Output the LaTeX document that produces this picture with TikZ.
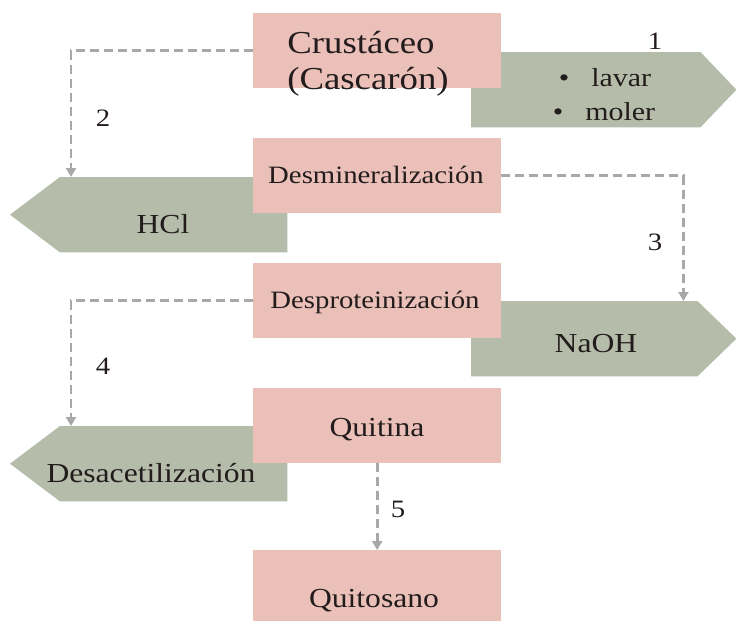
\documentclass[tikz,border=0pt]{standalone}
\usepackage{fontspec}
\setmainfont{Liberation Serif}[FakeStretch=1.15]
\usetikzlibrary{arrows.meta}
\definecolor{boxpink}{RGB}{234,192,185}
\definecolor{sage}{RGB}{181,189,170}
\definecolor{dashgray}{RGB}{168,168,168}
\definecolor{ink}{RGB}{35,28,28}
\begin{document}
\begin{tikzpicture}[x=1pt,y=-1pt,
  procbox/.style={fill=boxpink, minimum width=248pt, minimum height=75pt, inner sep=0pt, anchor=north west, draw=none},
  sagebody/.style={inner sep=0pt, anchor=north west, draw=none, minimum height=75pt},
  txt/.style={text=ink, inner sep=0pt, anchor=base, font=\fontsize{27.5}{32}\selectfont},
  bigtxt/.style={text=ink, inner sep=0pt, anchor=base, font=\fontsize{32}{38}\selectfont},
  midtxt/.style={text=ink, inner sep=0pt, anchor=base, font=\fontsize{25}{30}\selectfont},
  numtxt/.style={text=ink, inner sep=0pt, anchor=base, font=\fontsize{25}{30}\selectfont},
  flow/.style={draw=dashgray, line width=2.6pt, dash pattern=on 9pt off 5pt,
    -{Triangle[width=10pt,length=9pt,fill=dashgray]}}
]
\useasboundingbox (0,0) rectangle (736,621);
\fill[white] (0,0) rectangle (736,621);

% green pointed shapes
\node[sagebody, minimum width=229pt] (g1) at (471,52) {};
\fill[sage] (g1.north west) -- (g1.north east) -- ([xshift=36pt]g1.east) -- (g1.south east) -- (g1.south west) -- cycle;
\node[sagebody, minimum width=227pt] (g2) at (60,177) {};
\fill[sage] (g2.north east) -- (g2.north west) -- ([xshift=-50pt]g2.west) -- (g2.south west) -- (g2.south east) -- cycle;
\node[sagebody, minimum width=226pt] (g3) at (471,301) {};
\fill[sage] (g3.north west) -- (g3.north east) -- ([xshift=39pt]g3.east) -- (g3.south east) -- (g3.south west) -- cycle;
\node[sagebody, minimum width=227pt] (g4) at (60,426) {};
\fill[sage] (g4.north east) -- (g4.north west) -- ([xshift=-50pt]g4.west) -- (g4.south west) -- (g4.south east) -- cycle;

% pink boxes
\node[procbox] (b1) at (253,13) {};
\node[procbox] (b2) at (253,138) {};
\node[procbox] (b3) at (253,263) {};
\node[procbox] (b4) at (253,388) {};
\node[procbox, minimum height=71pt] (b5) at (253,550) {};

% texts in pink boxes
\node[bigtxt] (t1a) at (361,53) {Crustáceo};
\node[bigtxt] (t1b) at (368,89) {(Cascarón)};
\node[midtxt] (t2) at (376,183) {Desmineralización};
\node[midtxt] (t3) at (375,308) {Desproteinización};
\node[txt] (t4) at (377,436) {Quitina};
\node[txt] (t5) at (374,607) {Quitosano};

% texts in green shapes
\node[txt, font=\fontsize{26}{30}\selectfont] (s1a) at (605,86) {\textbullet\hspace{22pt}lavar};
\node[txt, font=\fontsize{26}{30}\selectfont] (s1b) at (604,120) {\textbullet\hspace{22pt}moler};
\node[txt] (s2) at (163,233) {HCl};
\node[txt] (s3) at (596,352) {NaOH};
\node[txt] (s4) at (151,482) {Desacetilización};

% connectors
\draw[flow] (b1.west) -| ([xshift=11pt]g2.north west);
\draw[flow] (b2.east) -| ([xshift=-14pt]g3.north east);
\draw[flow] (b3.west) -| ([xshift=11pt]g4.north west);
\draw[flow] (b4.south) -- (b5.north);

% step numbers
\node[numtxt] (n1) at (655,49) {1};
\node[numtxt] (n2) at (103,126) {2};
\node[numtxt] (n3) at (655,250) {3};
\node[numtxt] (n4) at (103,374) {4};
\node[numtxt] (n5) at (398,517) {5};
\end{tikzpicture}
\end{document}
